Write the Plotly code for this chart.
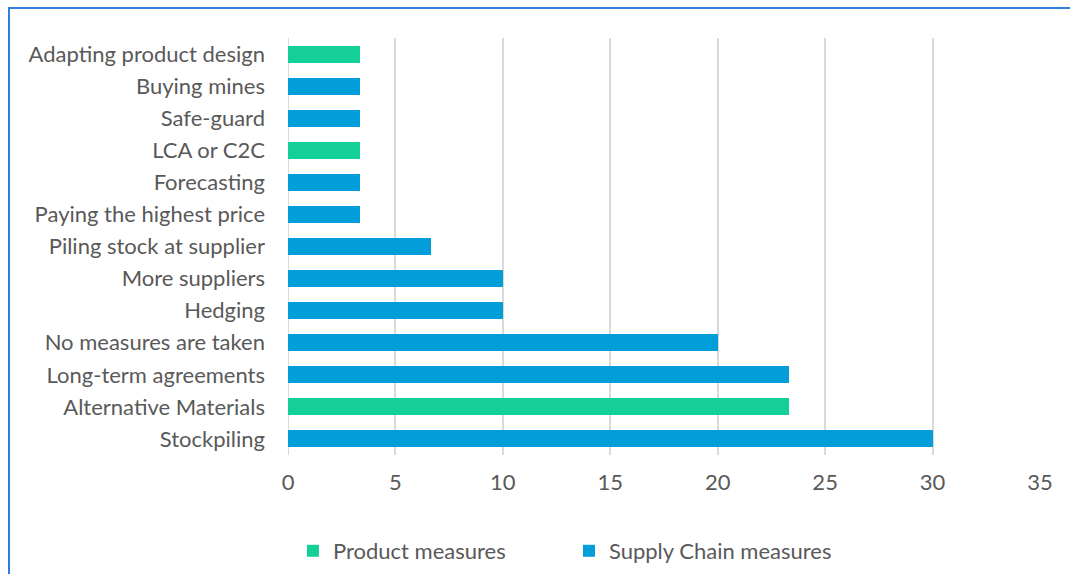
import plotly.graph_objects as go

# categories, top to bottom as drawn
medidas = [
    "Adapting product design", "Buying mines", "Safe-guard", "LCA or C2C",
    "Forecasting", "Paying the highest price", "Piling stock at supplier",
    "More suppliers", "Hedging", "No measures are taken",
    "Long-term agreements", "Alternative Materials", "Stockpiling",
]
producto = [3.33, None, None, 3.33, None, None, None, None, None, None, None, 23.33, None]
cadena = [None, 3.33, 3.33, None, 3.33, 3.33, 6.67, 10, 10, 20, 23.33, None, 30]
ticks_x = [0, 5, 10, 15, 20, 25, 30, 35]

VERDE = "#14CF97"
AZUL = "#029ED9"
TEXTO = "#595959"
REJILLA = "#D9D9D9"

fig = go.Figure()
fig.add_trace(go.Bar(y=medidas, x=producto, orientation="h", name="Product measures",
                     marker=dict(color=VERDE, line_width=0)))
fig.add_trace(go.Bar(y=medidas, x=cadena, orientation="h", name="Supply Chain measures",
                     marker=dict(color=AZUL, line_width=0)))

fig.update_layout(
    width=1070, height=574,
    margin=dict(l=288, r=30, t=38, b=119, autoexpand=False),
    paper_bgcolor="white", plot_bgcolor="white",
    font=dict(family="Lato, Carlito, sans-serif", size=22, color=TEXTO),
    barmode="stack", bargap=0.47,
    showlegend=True,
    legend=dict(orientation="h", xref="container", yref="container",
                x=0.2738, xanchor="left", y=0.0401, yanchor="middle",
                font=dict(size=22, color=TEXTO), entrywidth=231, traceorder="normal"),
    xaxis=dict(range=[0, 35], tickvals=ticks_x, showgrid=True, gridcolor=REJILLA, gridwidth=2,
               zeroline=False, showline=False, ticklabelstandoff=12, fixedrange=True,
               automargin=False),
    yaxis=dict(autorange="reversed", showgrid=False, zeroline=False, showline=False,
               ticklabelstandoff=22, fixedrange=True, automargin=False),
    # blue frame, cut off on the right and bottom like in the original
    shapes=[dict(type="rect", xref="paper", yref="paper",
                 x0=-0.371, x1=1.2, y0=-0.4, y1=1.072,
                 line=dict(color="#2F7ED8", width=2), fillcolor="rgba(0,0,0,0)")],
)
fig.add_vline(x=0, line_color=REJILLA, line_width=2, layer="below")

# sin margen del body para que la figura quede pegada a la ventana
fig.write_html("out.html", config={"displayModeBar": False},
               post_script="document.body.style.margin='0';")
